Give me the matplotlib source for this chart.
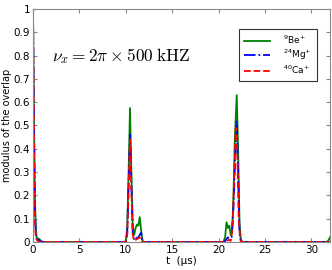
import matplotlib
matplotlib.use("Agg")
import matplotlib.pyplot as plt

# values
t_be = [0, 0.1, 0.2, 0.3, 0.4, 0.5, 0.7, 0.9, 1.2, 9.8, 10.0, 10.15, 10.3, 10.45, 10.6, 10.75, 10.9, 11.05,
        11.2, 11.35, 11.5, 11.65, 11.8, 12.0, 20.5, 20.7, 20.85, 21.0, 21.15, 21.3, 21.45, 21.6, 21.75, 21.95,
        22.1, 22.25, 22.4, 22.6, 31.6, 31.8, 32]
be = [1.0, 0.55, 0.2, 0.06, 0.015, 0.015, 0.012, 0.003, 0, 0, 0.005, 0.06, 0.3, 0.575, 0.3, 0.06, 0.03,
      0.06, 0.075, 0.07, 0.107, 0.05, 0.005, 0, 0, 0.02, 0.085, 0.06, 0.07, 0.03, 0.04, 0.2, 0.45, 0.63,
      0.4, 0.08, 0.01, 0, 0, 0.005, 0.02]

t_mg = [0, 0.1, 0.2, 0.3, 0.4, 0.6, 0.9, 10.0, 10.15, 10.3, 10.45, 10.6, 10.75, 10.9, 11.05, 11.2, 11.35,
        11.5, 11.65, 11.8, 20.6, 20.8, 21.0, 21.2, 21.4, 21.6, 21.8, 21.95, 22.1, 22.25, 22.4, 32]
mg = [1.0, 0.5, 0.15, 0.04, 0.01, 0.01, 0, 0, 0.04, 0.25, 0.46, 0.25, 0.04, 0.01, 0.02, 0.015, 0.02,
      0.03, 0.04, 0, 0, 0.01, 0.02, 0.015, 0.02, 0.15, 0.38, 0.52, 0.3, 0.04, 0, 0]

t_ca = [0, 0.1, 0.2, 0.3, 0.5, 0.8, 10.0, 10.15, 10.3, 10.45, 10.6, 10.75, 10.9, 11.1, 11.3, 11.5, 11.7,
        20.7, 20.9, 21.1, 21.3, 21.5, 21.7, 21.85, 22.0, 22.15, 22.3, 22.45, 32]
ca = [1.0, 0.45, 0.1, 0.02, 0.005, 0, 0, 0.03, 0.22, 0.44, 0.22, 0.03, 0.005, 0.01, 0.015, 0.02, 0,
      0, 0.005, 0.01, 0.005, 0.06, 0.3, 0.49, 0.4, 0.12, 0.02, 0, 0]

fig = plt.figure(figsize=(3.32, 2.7), dpi=100)
ax = fig.add_axes([0.0994, 0.1037, 0.8946, 0.863])

ax.plot(t_be, be, color=(0, 0.5, 0), lw=1.3, ls='-', label='$^{9}$Be$^{+}$')
ax.plot(t_mg, mg, color='blue', lw=1.3, ls='-.', label='$^{24}$Mg$^{+}$')
ax.plot(t_ca, ca, color='red', lw=1.3, ls='--', label='$^{40}$Ca$^{+}$')

ax.set_xlim(0, 32)
ax.set_ylim(0, 1)
ax.set_xticks([0, 5, 10, 15, 20, 25, 30])
ax.set_yticks([0, 0.1, 0.2, 0.3, 0.4, 0.5, 0.6, 0.7, 0.8, 0.9, 1])
ax.set_yticklabels(['0', '0.1', '0.2', '0.3', '0.4', '0.5', '0.6', '0.7', '0.8', '0.9', '1'])
ax.tick_params(direction='in', top=True, right=True, labelsize=7.5, length=3, color='#888888', pad=2)
for s in ax.spines.values():
    s.set_color('#888888')

ax.set_xlabel('t  (μs)', fontsize=7.5, labelpad=1)
ax.set_ylabel('modulus of the overlap', fontsize=7, labelpad=1)

ax.text(2.0, 0.8, r'$\nu_x = 2\pi \times 500\;\mathrm{kHZ}$', fontsize=12.5, va='center',
        math_fontfamily='cm')

leg = ax.legend(loc='upper right', bbox_to_anchor=(0.955, 0.915), fontsize=6.5, frameon=True,
                fancybox=False, handlelength=2.8, handletextpad=1.5, borderpad=0.55,
                labelspacing=0.15, borderaxespad=0)
leg.get_frame().set_edgecolor('black')
leg.get_frame().set_linewidth(0.8)

fig.savefig('out.png', dpi=100)
